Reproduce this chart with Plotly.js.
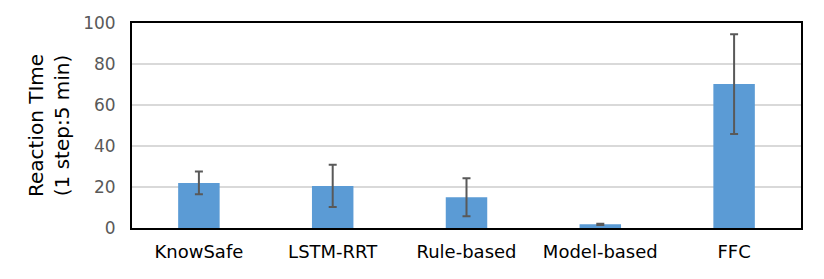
<!DOCTYPE html>
<html>
<head>
<meta charset="utf-8">
<script src="https://cdn.plot.ly/plotly-3.0.1.min.js"></script>
<style>html,body{margin:0;padding:0;background:#fff;}#chart{width:824px;height:279px;}</style>
</head>
<body>
<div id="chart"></div>
<script>
const categories = ["KnowSafe", "LSTM-RRT", "Rule-based", "Model-based", "FFC"];
const values = [22, 20.5, 15, 1.8, 70.2];
const errors = [5.5, 10.3, 9.3, 0.3, 24.3];
const yTicks = [0, 20, 40, 60, 80, 100];

const trace = {
  type: "bar",
  x: categories,
  y: values,
  marker: {color: "#5B9BD5"},
  width: 0.31,
  error_y: {type: "data", array: errors, visible: true, color: "#595959", thickness: 2, width: 4}
};

const layout = {
  width: 824, height: 279,
  margin: {l: 132, r: 23, t: 23, b: 51},
  paper_bgcolor: "#fff", plot_bgcolor: "#fff",
  showlegend: false,
  font: {family: "DejaVu Sans, sans-serif"},
  xaxis: {
    showline: true, linecolor: "#000", linewidth: 2, mirror: true,
    ticks: "outside", ticklen: 6, tickcolor: "rgba(0,0,0,0)",
    tickfont: {size: 18, color: "#000"}, showgrid: false
  },
  yaxis: {
    range: [0, 100], tickvals: yTicks, ticktext: yTicks.map(String),
    showline: true, linecolor: "#000", linewidth: 2, mirror: true,
    gridcolor: "#d9d9d9", gridwidth: 2, zeroline: false,
    ticks: "outside", ticklen: 11, tickcolor: "rgba(0,0,0,0)",
    tickfont: {size: 17, color: "#595959"},
    title: {text: "Reaction TIme<br>(1 step:5 min)", font: {size: 20, color: "#000"}, standoff: 8}
  }
};

Plotly.newPlot("chart", [trace], layout, {displayModeBar: false, staticPlot: true});
</script>
</body>
</html>
